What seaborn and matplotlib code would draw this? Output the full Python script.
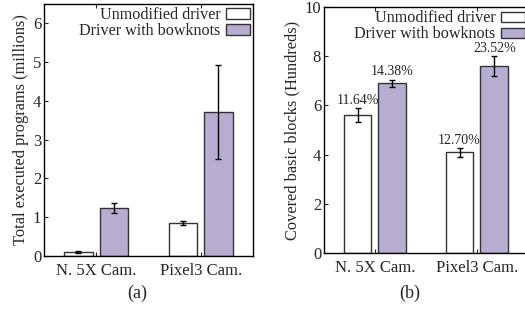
import pandas as pd
import seaborn as sns
import matplotlib
matplotlib.use('Agg')
import matplotlib.pyplot as plt

devices = ["N. 5X Cam.", "Pixel3 Cam."]
drivers = ["Unmodified driver", "Driver with bowknots"]

# (a) total executed programs, millions
programs_unmod = [0.10, 0.85]
programs_unmod_err = [0.02, 0.06]
programs_bow = [1.25, 3.72]
programs_bow_err = [0.13, 1.21]

# (b) covered basic blocks, hundreds
blocks_unmod = [5.6, 4.1]
blocks_unmod_err = [0.28, 0.18]
blocks_bow = [6.9, 7.6]
blocks_bow_err = [0.15, 0.40]
blocks_unmod_pct = ["11.64%", "12.70%"]
blocks_bow_pct = ["14.38%", "23.52%"]

sns.set_style("white")
plt.rcParams['font.family'] = ['Liberation Serif', 'DejaVu Serif']
palette = {"Unmodified driver": "white", "Driver with bowknots": "#b4a7d6"}


def make_df(unmod, bow):
    rows = []
    for d, v in zip(devices, unmod):
        rows.append({"device": d, "driver": drivers[0], "value": v})
    for d, v in zip(devices, bow):
        rows.append({"device": d, "driver": drivers[1], "value": v})
    return pd.DataFrame(rows)


def draw(ax, unmod, unmod_err, bow, bow_err, ymax, yticks, ylabel, pcts=None):
    df = make_df(unmod, bow)
    sns.barplot(data=df, x="device", y="value", hue="driver", hue_order=drivers,
                palette=palette, order=devices, width=0.68, gap=0.2,
                edgecolor="#333333", linewidth=1.0, errorbar=None, ax=ax)
    errs = list(unmod_err) + list(bow_err)
    vals = list(unmod) + list(bow)
    labels = None if pcts is None else list(pcts[0]) + list(pcts[1])
    bars = [p for p in ax.patches if p.get_height() > 0][:4]
    for i, p in enumerate(bars):
        xc = p.get_x() + p.get_width() / 2
        ax.errorbar(xc, vals[i], yerr=errs[i], color="black", capsize=2.5,
                    elinewidth=1.0, capthick=1.0)
        if labels is not None:
            ax.text(xc, vals[i] + errs[i] + 0.05, labels[i], ha="center",
                    va="bottom", fontsize=10)
    ax.set_xlim(-0.5, 1.5)
    ax.set_ylim(0, ymax)
    ax.set_yticks(yticks)
    ax.set_xlabel("")
    ax.set_ylabel(ylabel, fontsize=11.8, labelpad=3)
    ax.tick_params(axis="both", labelsize=12, direction="in", length=3,
                   left=True, bottom=True, top=True, right=False)
    ax.tick_params(axis="x", pad=5)
    ax.tick_params(axis="y", pad=2)
    for s in ax.spines.values():
        s.set_color("black")
        s.set_linewidth(1.0)
    ax.legend(loc="upper right", frameon=False, markerfirst=False, fontsize=11.6,
              handlelength=1.5, handleheight=0.6, handletextpad=0.3,
              labelspacing=0.0, borderaxespad=0.1, borderpad=0.1)


fig = plt.figure(figsize=(5.25, 3.09), dpi=100)
ax1 = fig.add_axes([0.0838, 0.1715, 0.398, 0.8155])
ax2 = fig.add_axes([0.617, 0.181, 0.3886, 0.796])

draw(ax1, programs_unmod, programs_unmod_err, programs_bow, programs_bow_err,
     6.5, [0, 1, 2, 3, 4, 5, 6], "Total executed programs (millions)")
draw(ax2, blocks_unmod, blocks_unmod_err, blocks_bow, blocks_bow_err,
     10, [0, 2, 4, 6, 8, 10], "Covered basic blocks (Hundreds)",
     pcts=(blocks_unmod_pct, blocks_bow_pct))

fig.text(0.261, 0.052, "(a)", ha="center", va="center", fontsize=13)
fig.text(0.781, 0.052, "(b)", ha="center", va="center", fontsize=13)

fig.savefig("out.png", dpi=100)
